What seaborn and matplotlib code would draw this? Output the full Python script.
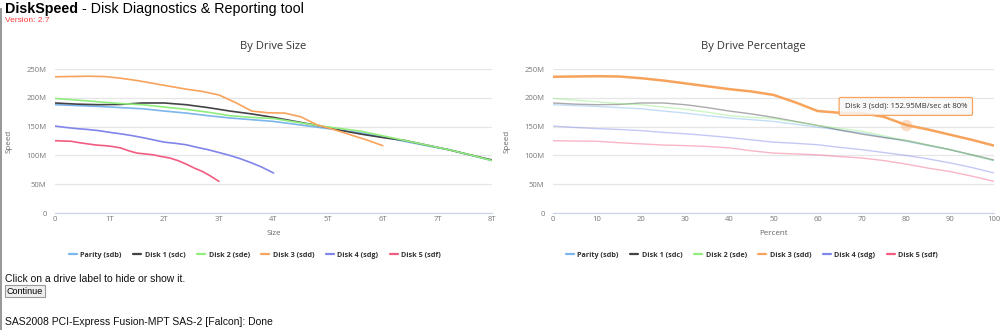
from __future__ import annotations

import matplotlib

matplotlib.use("Agg")
import matplotlib.pyplot as plt
import pandas as pd
import seaborn as sns
from matplotlib.lines import Line2D
from matplotlib.patches import FancyBboxPatch, Rectangle


# percent of each drive that has been read
PERCENT = [0, 5, 10, 15, 20, 25, 30, 35, 40, 45, 50, 55, 60, 65, 70, 75, 80, 85, 90, 95, 100]

DRIVES = ["Parity (sdb)", "Disk 1 (sdc)", "Disk 2 (sde)", "Disk 3 (sdd)", "Disk 4 (sdg)", "Disk 5 (sdf)"]
CAPACITY_T = [8, 8, 8, 6, 4, 3]
COLORS = ["#7cb5ec", "#434348", "#90ed7d", "#f7a35c", "#8085e9", "#f15c80"]

# MB/sec at each percent
PARITY_SPEED = [188, 186.5, 185, 183, 181, 177, 173.5, 169, 165, 162, 159, 154, 149, 144, 139, 132,
                124.5, 117, 110, 100.5, 91]
DISK1_SPEED = [191, 189, 188, 188.5, 191, 191, 188, 183, 177, 172, 166, 159, 152, 144, 137, 131,
               126, 118, 110, 101, 92]
DISK2_SPEED = [199, 196, 193, 190, 188, 184, 180, 175, 169, 166, 164, 158, 152, 147, 142, 134,
               126, 118, 110, 101, 91]
DISK3_SPEED = [236.5, 237, 237.5, 237, 234, 230, 225, 220, 215, 211, 205, 192, 177, 174, 173.5, 167,
               152.95, 145, 136, 127, 117]
DISK4_SPEED = [151, 148.5, 146.5, 145, 143, 140, 137.5, 134.5, 131, 127, 123, 121, 118.5, 114, 110, 105,
               100, 94, 87, 79, 69.5]
DISK5_SPEED = [125.5, 125, 124.5, 122, 120, 118, 117, 115.5, 113, 108, 104, 102.5, 101, 98, 95.5, 91,
               85, 78, 72, 64, 55]

SPEEDS = [PARITY_SPEED, DISK1_SPEED, DISK2_SPEED, DISK3_SPEED, DISK4_SPEED, DISK5_SPEED]

SIZE_TICKS = [0, 1, 2, 3, 4, 5, 6, 7, 8]
SIZE_LABELS = ["0", "1T", "2T", "3T", "4T", "5T", "6T", "7T", "8T"]
PCT_TICKS = [0, 10, 20, 30, 40, 50, 60, 70, 80, 90, 100]
SPEED_TICKS = [0, 50, 100, 150, 200, 250]
SPEED_LABELS = ["0", "50M", "100M", "150M", "200M", "250M"]


def build_frame() -> pd.DataFrame:
    frames = []
    for drive, cap, speed in zip(DRIVES, CAPACITY_T, SPEEDS):
        frames.append(pd.DataFrame({
            "drive": drive,
            "percent": PERCENT,
            "size": [p / 100.0 * cap for p in PERCENT],
            "speed": speed,
        }))
    return pd.concat(frames, ignore_index=True)


def style_axes(ax, xticks, xlabels, xlabel, xmax):
    ax.set_xlim(0, xmax)
    ax.set_ylim(0, 250)
    ax.set_yticks(SPEED_TICKS)
    ax.set_yticklabels(SPEED_LABELS)
    ax.set_xticks(xticks)
    ax.set_xticklabels(xlabels)
    ax.grid(axis="y", color="#e6e6e6", linewidth=0.9)
    ax.grid(axis="x", visible=False)
    for side in ["top", "right", "left"]:
        ax.spines[side].set_visible(False)
    ax.spines["bottom"].set_color("#ccd6eb")
    ax.spines["bottom"].set_linewidth(0.9)
    ax.tick_params(axis="x", colors="#ccd6eb", length=4, width=0.8, direction="in", pad=2, labelsize=5.5,
                   labelcolor="#777777")
    ax.tick_params(axis="y", length=0, pad=6, labelsize=5.5, labelcolor="#777777")
    ax.set_xlabel(xlabel, fontsize=5.8, color="#666666", labelpad=5)
    ax.set_ylabel("Speed", fontsize=5.8, color="#666666", labelpad=10)


def add_legend(fig, cx):
    handles = [Line2D([0], [0], color=c, linewidth=1.6) for c in COLORS]
    fig.legend(handles, DRIVES, loc="center", bbox_to_anchor=(cx, 1 - 255 / 330), ncol=6, frameon=False,
               prop={"size": 5.2, "weight": "bold"}, labelcolor="#333333", handlelength=1.1,
               handletextpad=0.5, columnspacing=1.6)


def main() -> None:
    sns.set_theme(style="white")
    plt.rcParams["font.family"] = ["Open Sans", "DejaVu Sans"]

    data = build_frame()
    fig = plt.figure(figsize=(10, 3.3), dpi=100)
    fig.patch.set_facecolor("white")

    ax1 = fig.add_axes([0.055, 1 - 213 / 330, 0.437, 144 / 330])
    ax2 = fig.add_axes([0.553, 1 - 213 / 330, 0.441, 144 / 330])

    # by drive size
    sns.lineplot(data=data, x="size", y="speed", hue="drive", hue_order=DRIVES, palette=COLORS,
                 linewidth=1.2, legend=False, ax=ax1, sort=False)
    style_axes(ax1, SIZE_TICKS, SIZE_LABELS, "Size", 8)

    # by drive percentage, Disk 3 highlighted
    for drive, color in zip(DRIVES, COLORS):
        sub = data[data["drive"] == drive]
        hot = drive == "Disk 3 (sdd)"
        sns.lineplot(data=sub, x="percent", y="speed", color=color, linewidth=1.8 if hot else 1.0,
                     alpha=1.0 if hot else 0.45, legend=False, ax=ax2, zorder=3 if hot else 2)
    style_axes(ax2, PCT_TICKS, [str(t) for t in PCT_TICKS], "Percent", 100)

    d3 = data[(data["drive"] == "Disk 3 (sdd)") & (data["percent"] == 80)].iloc[0]
    ax2.scatter([d3["percent"]], [d3["speed"]], s=70, color="#f7a35c", alpha=0.35, zorder=4, linewidth=0)
    ax2.annotate("Disk 3 (sdd): 152.95MB/sec at 80%", xy=(d3["percent"], d3["speed"]),
                 xytext=(80, 185), ha="center", va="center", fontsize=5.6, color="#333333",
                 bbox=dict(boxstyle="round,pad=0.7,rounding_size=0.2", fc=(0.97, 0.97, 0.97, 0.85),
                           ec="#f7a35c", lw=0.9), zorder=6)

    fig.text(273 / 1000, 1 - 47 / 330, "By Drive Size", ha="center", va="center", fontsize=8, color="#333333")
    fig.text(753 / 1000, 1 - 47 / 330, "By Drive Percentage", ha="center", va="center", fontsize=8,
             color="#333333")
    add_legend(fig, 0.255)
    add_legend(fig, 0.752)

    # page chrome
    head = fig.text(0.005, 1 - 9 / 330, "DiskSpeed", ha="left", va="center", fontsize=10.3, weight="bold",
                    family="Liberation Sans", color="black")
    renderer = fig.canvas.get_renderer()
    bb = head.get_window_extent(renderer=renderer)
    fig.text(bb.x1 / 1000 + 0.004, 1 - 9 / 330, "- Disk Diagnostics & Reporting tool", ha="left", va="center",
             fontsize=10.3, family="Liberation Sans", color="black")
    fig.text(0.005, 1 - 21 / 330, "Version: 2.7", ha="left", va="center", fontsize=6, family="Liberation Sans",
             color="#ff3b3b")
    fig.text(0.005, 1 - 279 / 330, "Click on a drive label to hide or show it.", ha="left", va="center",
             fontsize=7.5, family="Liberation Sans", color="#111111")
    fig.patches.append(FancyBboxPatch((5 / 1000, 1 - 297 / 330), 40 / 1000, 12 / 330, boxstyle="square,pad=0",
                                      transform=fig.transFigure, fc="#efefef", ec="#9a9a9a", lw=0.8))
    fig.text(25 / 1000, 1 - 291 / 330, "Continue", ha="center", va="center", fontsize=6.5,
             family="Liberation Sans", color="black")
    fig.text(0.005, 1 - 322 / 330, "SAS2008 PCI-Express Fusion-MPT SAS-2 [Falcon]: Done", ha="left",
             va="center", fontsize=7.5, family="Liberation Sans", color="#111111")
    fig.patches.append(Rectangle((0, 0), 2 / 1000, 1 - 8 / 330, transform=fig.transFigure, fc="#999999",
                                 ec="none"))

    fig.savefig("out.png", dpi=100, facecolor="white")


if __name__ == "__main__":
    main()
